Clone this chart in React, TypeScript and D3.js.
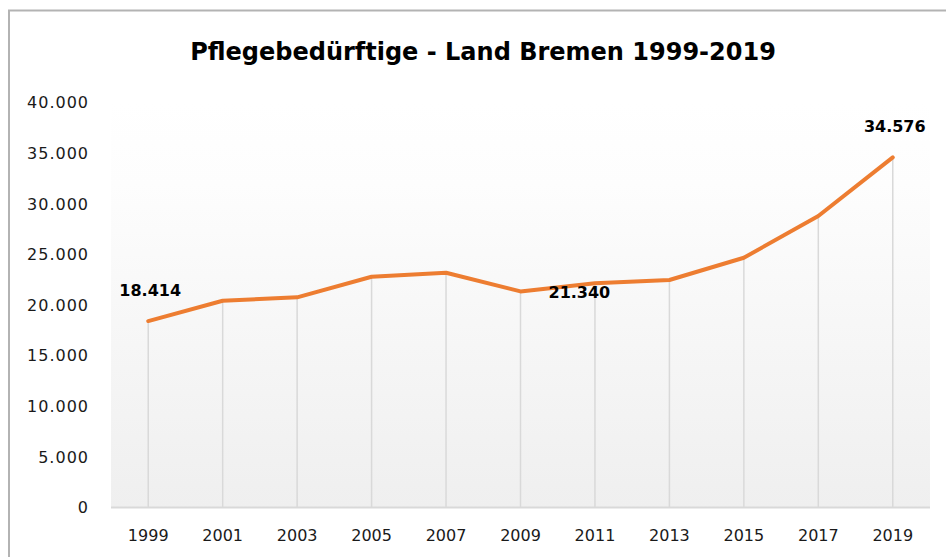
import React from "react";
import * as d3 from "d3";

const years = ["1999", "2001", "2003", "2005", "2007", "2009", "2011", "2013", "2015", "2017", "2019"];
const values = [18414, 20420, 20760, 22795, 23190, 21340, 22140, 22470, 24670, 28790, 34576];
const yTicks = [0, 5000, 10000, 15000, 20000, 25000, 30000, 35000, 40000];
const labelled = [
  { year: "1999", place: "above" },
  { year: "2009", place: "right" },
  { year: "2019", place: "above" },
];
const title = "Pflegebedürftige - Land Bremen 1999-2019";

const W = 946;
const H = 557;
const fmt = (v: number) => d3.format(",")(v).replace(/,/g, ".");

export default function App() {
  const x = d3.scaleBand<string>().domain(years).range([111, 930]).padding(0);
  const y = d3.scaleLinear().domain([0, 40000]).range([507.5, 102.5]);
  const cx = (yr: string) => (x(yr) as number) + x.bandwidth() / 2;
  const pts: [number, number][] = years.map((yr, i) => [cx(yr), y(values[i])]);
  const line = d3.line<[number, number]>().x((d) => d[0]).y((d) => d[1]);
  const axisFont = "'DejaVu Sans', sans-serif";

  return (
    <svg width={W} height={H} style={{ position: "absolute", left: 0, top: 0 }}>
      <defs>
        <linearGradient id="bg" x1="0" y1="0" x2="0" y2="1">
          <stop offset="0" stopColor="#ffffff" />
          <stop offset="0.2" stopColor="#fdfdfd" />
          <stop offset="1" stopColor="#efefef" />
        </linearGradient>
      </defs>
      <rect x={0} y={0} width={W} height={H} fill="#ffffff" />
      <rect x={9} y={10.5} width={1000} height={700} fill="#ffffff" stroke="#b3b3b3" strokeWidth={2} />
      <text
        x={483}
        y={60}
        textAnchor="middle"
        fontFamily={axisFont}
        fontWeight="bold"
        fontSize={24}
        fill="#000"
      >
        {title}
      </text>
      <rect x={111} y={y(40000)} width={930 - 111} height={y(0) - y(40000)} fill="url(#bg)" />
      {years.map((yr, i) => (
        <line key={yr} x1={cx(yr)} x2={cx(yr)} y1={y(values[i])} y2={y(0)} stroke="#d9d9d9" strokeWidth={1.5} />
      ))}
      <line x1={111} x2={930} y1={y(0)} y2={y(0)} stroke="#d9d9d9" strokeWidth={2} />
      {yTicks.map((t) => (
        <text
          key={t}
          x={89}
          y={y(t)}
          dy="0.36em"
          textAnchor="end"
          fontFamily={axisFont}
          fontSize={16}
          letterSpacing={1}
          fill="#1a1a1a"
        >
          {fmt(t)}
        </text>
      ))}
      {years.map((yr) => (
        <text
          key={yr}
          x={cx(yr)}
          y={535}
          dy="0.36em"
          textAnchor="middle"
          fontFamily={axisFont}
          fontSize={16}
          fill="#1a1a1a"
        >
          {yr}
        </text>
      ))}
      <path
        d={line(pts) || ""}
        fill="none"
        stroke="#ED7D31"
        strokeWidth={4}
        strokeLinejoin="round"
        strokeLinecap="round"
      />
      {labelled.map((l) => {
        const i = years.indexOf(l.year);
        const px = cx(l.year);
        const py = y(values[i]);
        const above = l.place === "above";
        return (
          <text
            key={l.year}
            x={above ? px + 2 : px + 28}
            y={above ? py - 31 : py + 1}
            dy="0.36em"
            textAnchor={above ? "middle" : "start"}
            fontFamily={axisFont}
            fontWeight="bold"
            fontSize={16}
            fill="#000"
          >
            {fmt(values[i])}
          </text>
        );
      })}
    </svg>
  );
}
